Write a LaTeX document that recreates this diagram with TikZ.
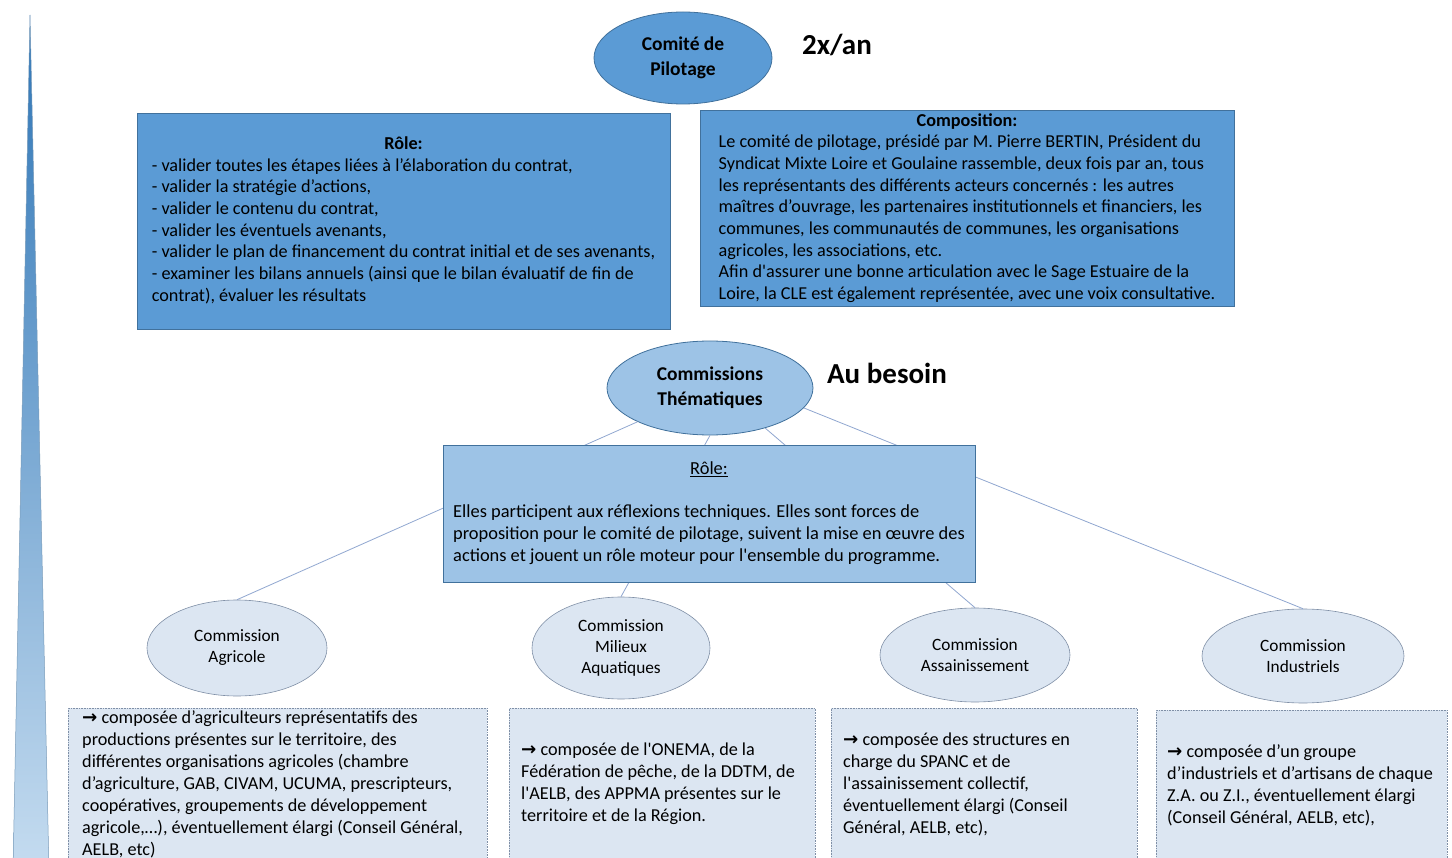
\documentclass[tikz,border=0pt]{standalone}
\usepackage{fontspec}
\setmainfont{Carlito}
\newfontfamily\symf{DejaVu Sans}
\usetikzlibrary{shapes.geometric}
\definecolor{dkfill}{HTML}{5B9BD5}
\definecolor{dkline}{HTML}{41719C}
\definecolor{mdfill}{HTML}{9DC3E6}
\definecolor{ltfill}{HTML}{DCE6F2}
\definecolor{ltline}{HTML}{7F8FA6}
\definecolor{conn}{HTML}{8FA6CF}
\definecolor{wtop}{HTML}{2E75B6}
\definecolor{wbot}{HTML}{C5DCF0}
\newcommand{\arr}{{\symf\bfseries →}}
\newcommand{\sq}{\textquotesingle}
\begin{document}
\begin{tikzpicture}[x=1pt,y=-1pt,
  bigell/.style={ellipse, draw=dkline, line width=0.8pt, inner sep=0pt, align=center,
    font=\fontsize{19.5}{25}\selectfont\bfseries},
  smell/.style={ellipse, draw=ltline, line width=0.6pt, fill=ltfill, inner sep=0pt, align=center,
    font=\fontsize{17.3}{21}\selectfont},
  dkbox/.style={rectangle, draw=dkline, line width=0.8pt, fill=dkfill, inner sep=0pt,
    font=\fontsize{18.2}{21.7}\selectfont},
  mdbox/.style={rectangle, draw=dkline, line width=0.8pt, fill=mdfill, inner sep=0pt,
    font=\fontsize{18.4}{21.8}\selectfont},
  lowbox/.style={rectangle, draw=ltline, densely dotted, line width=0.6pt, fill=ltfill,
    anchor=north west, inner sep=0pt},
  lowtext/.style={anchor=north west, inner sep=0pt, font=\fontsize{18.2}{22}\selectfont},
  bigtag/.style={font=\fontsize{29}{34}\selectfont\bfseries, inner sep=0pt},
  conline/.style={draw=conn, line width=0.8pt}
]
\useasboundingbox (0,0) rectangle (1452,858);
\clip (0,0) rectangle (1452,858);

% left wedge
\path[top color=wtop, bottom color=wbot, draw=dkline!70, line width=0.5pt]
  (30,15) -- (49,870) -- (13,870) -- cycle;

% top level
\node[bigell, fill=dkfill, minimum width=178pt, minimum height=92pt] (cp) at (683,58) {Comité de\\Pilotage};
\node[bigtag] (freq1) at (837,45) {2x/an};

\node[dkbox, minimum width=533pt, minimum height=216pt] (role1) at (403.5,221) {%
\begin{tabular}{@{}l@{}}
\multicolumn{1}{@{}c@{}}{\textbf{Rôle:}}\\
- valider toutes les étapes liées à l’élaboration du contrat,\\
- valider la stratégie d’actions,\\
- valider le contenu du contrat,\\
- valider les éventuels avenants,\\
- valider le plan de financement du contrat initial et de ses avenants,\\
- examiner les bilans annuels (ainsi que le bilan évaluatif de fin de\\
contrat), évaluer les résultats
\end{tabular}};

\node[dkbox, minimum width=534pt, minimum height=191pt] (compo) at (967,208.5) {%
\begin{tabular}{@{}l@{}}
\multicolumn{1}{@{}c@{}}{\textbf{Composition:}}\\
Le comité de pilotage, présidé par M. Pierre BERTIN, Président du\\
Syndicat Mixte Loire et Goulaine rassemble, deux fois par an, tous\\
les représentants des différents acteurs concernés : les autres\\
maîtres d’ouvrage, les partenaires institutionnels et financiers, les\\
communes, les communautés de communes, les organisations\\
agricoles, les associations, etc.\\
Afin d\sq assurer une bonne articulation avec le Sage Estuaire de la\\
Loire, la CLE est également représentée, avec une voix consultative.
\end{tabular}};

% second level
\node[bigell, fill=mdfill, minimum width=206pt, minimum height=94pt] (th) at (710,388) {Commissions\\Thématiques};
\node[bigtag] (freq2) at (887,373) {Au besoin};

% commissions
\node[smell, minimum width=180pt, minimum height=96pt] (ag) at (237,648) {Commission\\Agricole};
\node[smell, minimum width=178pt, minimum height=102pt] (mi) at (621,648) {Commission\\Milieux\\Aquatiques};
\node[smell, minimum width=190pt, minimum height=94pt] (as) at (975,655) {Commission\\Assainissement};
\node[smell, minimum width=202pt, minimum height=94pt] (in) at (1303,656) {Commission\\Industriels};

\draw[conline] (th.205) -- (ag.north);
\draw[conline] (th.south) -- (mi.north);
\draw[conline] (th.324) -- (as.north);
\draw[conline] (th.348) -- (in.north);

\node[mdbox, minimum width=532pt, minimum height=137pt] (role2) at (709,513.5) {%
\begin{tabular}{@{}l@{}}
\multicolumn{1}{@{}c@{}}{\underline{Rôle:}}\\
\\
Elles participent aux réflexions techniques. Elles sont forces de\\
proposition pour le comité de pilotage, suivent la mise en œuvre des\\
actions et jouent un rôle moteur pour l\sq ensemble du programme.
\end{tabular}};

% composition boxes
\node[lowbox, minimum width=419pt, minimum height=170pt] (b1) at (68,708) {};
\node[lowbox, minimum width=306pt, minimum height=170pt] (b2) at (509,708) {};
\node[lowbox, minimum width=306pt, minimum height=170pt] (b3) at (831,708) {};
\node[lowbox, minimum width=291pt, minimum height=170pt] (b4) at (1156,710) {};

\node[lowtext] (t1) at (82,708) {%
\begin{tabular}{@{}l@{}}
\arr{} composée d’agriculteurs représentatifs des\\
productions présentes sur le territoire, des\\
différentes organisations agricoles (chambre\\
d’agriculture, GAB, CIVAM, UCUMA, prescripteurs,\\
coopératives, groupements de développement\\
agricole,…), éventuellement élargi (Conseil Général,\\
AELB, etc)
\end{tabular}};
\node[lowtext] (t2) at (521,740) {%
\begin{tabular}{@{}l@{}}
\arr{} composée de l\sq ONEMA, de la\\
Fédération de pêche, de la DDTM, de\\
l\sq AELB, des APPMA présentes sur le\\
territoire et de la Région.
\end{tabular}};
\node[lowtext] (t3) at (843,730) {%
\begin{tabular}{@{}l@{}}
\arr{} composée des structures en\\
charge du SPANC et de\\
l\sq assainissement collectif,\\
éventuellement élargi (Conseil\\
Général, AELB, etc),
\end{tabular}};
\node[lowtext] (t4) at (1167,742) {%
\begin{tabular}{@{}l@{}}
\arr{} composée d’un groupe\\
d’industriels et d’artisans de chaque\\
Z.A. ou Z.I., éventuellement élargi\\
(Conseil Général, AELB, etc),
\end{tabular}};
\end{tikzpicture}
\end{document}
